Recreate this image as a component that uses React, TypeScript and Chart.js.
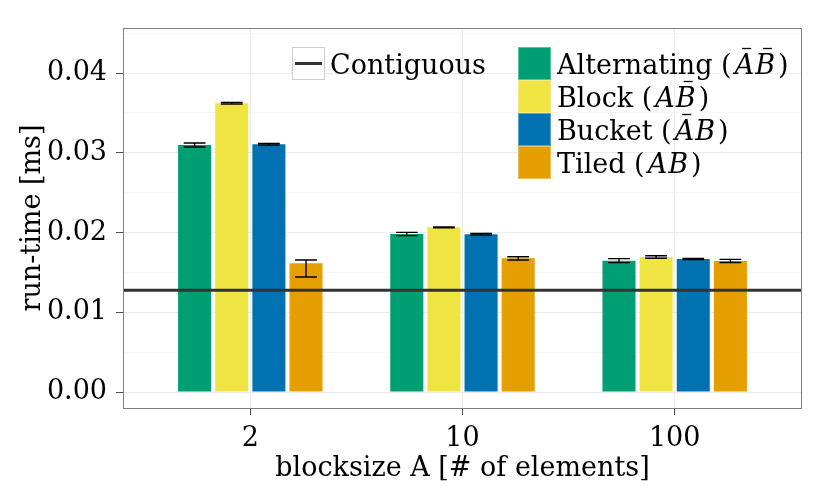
import { useEffect, useRef, JSX } from 'react';
import Chart from 'chart.js/auto';
import { ChartConfiguration, Plugin } from 'chart.js';

// categories on the x axis (blocksize A)
const categories = ['2', '10', '100'];
const xMin = 0.4;
const xMax = 3.6;

// series, legend parts and colours
const seriesNames = ['Alternating', 'Block', 'Bucket', 'Tiled'];
const overbarA = [true, false, true, false];
const overbarB = [true, true, false, false];
const seriesColors = ['#009E73', '#F0E442', '#0072B2', '#E69F00'];

// mean run-time [ms] per category
const alternating = [0.03097, 0.01981, 0.01647];
const block = [0.0362, 0.02065, 0.01693];
const bucket = [0.03106, 0.01977, 0.01668];
const tiled = [0.01614, 0.01676, 0.01643];

// error bar ends
const alternatingLow = [0.03072, 0.01961, 0.01622];
const alternatingHigh = [0.03122, 0.02001, 0.01672];
const blockLow = [0.0361, 0.02059, 0.01678];
const blockHigh = [0.0363, 0.02071, 0.01708];
const bucketLow = [0.03096, 0.01967, 0.01661];
const bucketHigh = [0.03116, 0.01987, 0.01675];
const tiledLow = [0.01442, 0.01656, 0.01623];
const tiledHigh = [0.01655, 0.01696, 0.01663];

// reference line
const contiguousLabel = 'Contiguous';
const contiguous = 0.01275;

// y axis
const yMin = -0.002006;
const yMax = 0.045643;
const yMajorTicks = [0, 0.01, 0.02, 0.03, 0.04];
const yTickLabels = ['0.00', '0.01', '0.02', '0.03', '0.04'];
const yMinorTicks = [0.005, 0.015, 0.025, 0.035, 0.045];

const seriesValues = [alternating, block, bucket, tiled];
const seriesLow = [alternatingLow, blockLow, bucketLow, tiledLow];
const seriesHigh = [alternatingHigh, blockHigh, bucketHigh, tiledHigh];

const FONT = '"DejaVu Serif", serif';
const FONT_SIZE = 27;

const isMajor = (v: number) => yMajorTicks.some(m => Math.abs(m - v) < 1e-9);

const errorBarPlugin: Plugin = {
    id: 'errorBars',
    afterDatasetsDraw(chart) {
        const { ctx } = chart;
        const yScale = chart.scales.y;
        ctx.save();
        ctx.strokeStyle = '#000000';
        ctx.lineWidth = 1.4;
        seriesLow.forEach((lows, di) => {
            const meta = chart.getDatasetMeta(di);
            meta.data.forEach((bar: any, j: number) => {
                const { x, width } = bar.getProps(['x', 'width'], true);
                const half = width * 0.33;
                const yLo = yScale.getPixelForValue(lows[j]);
                const yHi = yScale.getPixelForValue(seriesHigh[di][j]);
                ctx.beginPath();
                ctx.moveTo(x - half, yHi);
                ctx.lineTo(x + half, yHi);
                ctx.moveTo(x, yHi);
                ctx.lineTo(x, yLo);
                ctx.moveTo(x - half, yLo);
                ctx.lineTo(x + half, yLo);
                ctx.stroke();
            });
        });

        // panel border
        const area = chart.chartArea;
        ctx.strokeStyle = '#7f7f7f';
        ctx.lineWidth = 1;
        ctx.strokeRect(area.left + 0.5, area.top + 0.5, area.right - area.left - 1, area.bottom - area.top);
        ctx.restore();
    }
};

const legendPlugin: Plugin = {
    id: 'ggLegend',
    afterDraw(chart) {
        const { ctx } = chart;
        const area = chart.chartArea;
        const top = area.top + 19;
        const key = 33;
        ctx.save();

        // reference line key
        const lx = area.left + 169;
        ctx.fillStyle = '#ffffff';
        ctx.fillRect(lx, top, key, key);
        ctx.strokeStyle = '#cccccc';
        ctx.lineWidth = 1;
        ctx.strokeRect(lx + 0.5, top + 0.5, key - 1, key - 1);
        ctx.strokeStyle = '#333333';
        ctx.lineWidth = 3;
        ctx.beginPath();
        ctx.moveTo(lx + 3, top + key / 2);
        ctx.lineTo(lx + key - 3, top + key / 2);
        ctx.stroke();
        ctx.fillStyle = '#000000';
        ctx.textBaseline = 'alphabetic';
        ctx.font = `${FONT_SIZE}px ${FONT}`;
        ctx.fillText(contiguousLabel, lx + key + 5, top + key / 2 + 10);

        // fill keys
        const fx = area.left + 395;
        seriesNames.forEach((name, i) => {
            const ky = top + i * key;
            ctx.fillStyle = seriesColors[i];
            ctx.fillRect(fx, ky, key, key);
            ctx.strokeStyle = 'rgba(255,255,255,0.35)';
            ctx.lineWidth = 1;
            ctx.strokeRect(fx + 0.5, ky + 0.5, key - 1, key - 1);

            const base = ky + key / 2 + 10;
            let tx = fx + key + 6;
            ctx.fillStyle = '#000000';
            ctx.font = `${FONT_SIZE}px ${FONT}`;
            const head = `${name} (`;
            ctx.fillText(head, tx, base);
            tx += ctx.measureText(head).width + 3;

            ctx.font = `italic ${FONT_SIZE}px ${FONT}`;
            ctx.strokeStyle = '#000000';
            ctx.lineWidth = 1.3;
            [['A', overbarA[i]], ['B', overbarB[i]]].forEach(([ch, bar]) => {
                const w = ctx.measureText(ch as string).width;
                ctx.fillText(ch as string, tx, base);
                if (bar) {
                    const cx = tx + w * 0.62;
                    ctx.beginPath();
                    ctx.moveTo(cx - 4.5, base - 25);
                    ctx.lineTo(cx + 4.5, base - 25);
                    ctx.stroke();
                }
                tx += w + 1;
            });

            ctx.font = `${FONT_SIZE}px ${FONT}`;
            ctx.fillText(')', tx + 2, base);
        });
        ctx.restore();
    }
};

export default function App(): JSX.Element {
    const chartRef = useRef<HTMLCanvasElement | null>(null);
    const chartInstance = useRef<Chart | null>(null);

    useEffect(() => {
        if (chartInstance.current) {
            chartInstance.current.destroy();
        }
        if (!chartRef.current) return;
        const ctx = chartRef.current.getContext('2d');
        if (!ctx) return;

        const barSets = seriesNames.map((name, i) => ({
            type: 'bar' as const,
            label: name,
            data: seriesValues[i].map((v, j) => ({ x: j + 1, y: v })),
            backgroundColor: seriesColors[i],
            borderWidth: 0,
            categoryPercentage: 0.7,
            barPercentage: 0.89,
            order: 2
        }));

        const config: ChartConfiguration = {
            type: 'bar',
            data: {
                datasets: [
                    ...barSets,
                    {
                        type: 'line',
                        label: contiguousLabel,
                        data: [{ x: xMin, y: contiguous }, { x: xMax, y: contiguous }],
                        borderColor: '#333333',
                        borderWidth: 3,
                        pointRadius: 0,
                        order: 1
                    }
                ] as any
            },
            options: {
                responsive: true,
                maintainAspectRatio: false,
                animation: false,
                layout: { padding: { top: 28, right: 28, left: 0, bottom: 0 } },
                plugins: {
                    legend: { display: false },
                    tooltip: { enabled: false }
                },
                scales: {
                    x: {
                        type: 'linear',
                        min: xMin,
                        max: xMax,
                        offset: false,
                        afterBuildTicks: (scale: any) => {
                            scale.ticks = categories.map((_, i) => ({ value: i + 1 }));
                        },
                        afterFit: (scale: any) => {
                            scale.height = 90;
                        },
                        border: { display: false },
                        grid: {
                            offset: false,
                            color: '#ebebeb',
                            tickColor: '#4d4d4d',
                            tickLength: 7,
                            lineWidth: 1
                        },
                        ticks: {
                            autoSkip: false,
                            maxRotation: 0,
                            padding: 8,
                            color: '#000000',
                            font: { family: FONT, size: FONT_SIZE },
                            callback: (_v: any, index: number) => categories[index]
                        },
                        title: {
                            display: true,
                            text: 'blocksize A [# of elements]',
                            color: '#000000',
                            font: { family: FONT, size: FONT_SIZE },
                            padding: { top: 0, bottom: 13 }
                        }
                    },
                    y: {
                        type: 'linear',
                        min: yMin,
                        max: yMax,
                        afterBuildTicks: (scale: any) => {
                            scale.ticks = [...yMajorTicks, ...yMinorTicks]
                                .sort((a, b) => a - b)
                                .map(v => ({ value: v }));
                        },
                        afterFit: (scale: any) => {
                            scale.width = 123;
                        },
                        border: { display: false },
                        grid: {
                            color: (c: any) => (isMajor(c.tick.value) ? '#ebebeb' : '#f7f7f7'),
                            tickColor: (c: any) => (isMajor(c.tick.value) ? '#4d4d4d' : 'rgba(0,0,0,0)'),
                            tickLength: 7,
                            lineWidth: 1
                        },
                        ticks: {
                            autoSkip: false,
                            padding: 9,
                            color: '#000000',
                            font: { family: FONT, size: FONT_SIZE },
                            callback: (value: any) => {
                                const k = yMajorTicks.findIndex(m => Math.abs(m - Number(value)) < 1e-9);
                                return k >= 0 ? yTickLabels[k] : '';
                            }
                        },
                        title: {
                            display: true,
                            text: 'run-time [ms]',
                            color: '#000000',
                            font: { family: FONT, size: FONT_SIZE },
                            padding: { top: 17, bottom: 0 }
                        }
                    }
                }
            },
            plugins: [errorBarPlugin, legendPlugin]
        };

        chartInstance.current = new Chart(ctx, config);

        return () => {
            if (chartInstance.current) {
                chartInstance.current.destroy();
                chartInstance.current = null;
            }
        };
    }, []);

    return (
        <div style={{ position: 'fixed', left: 0, top: 0, width: 830, height: 498, background: '#ffffff' }}>
            <canvas ref={chartRef} />
        </div>
    );
}
